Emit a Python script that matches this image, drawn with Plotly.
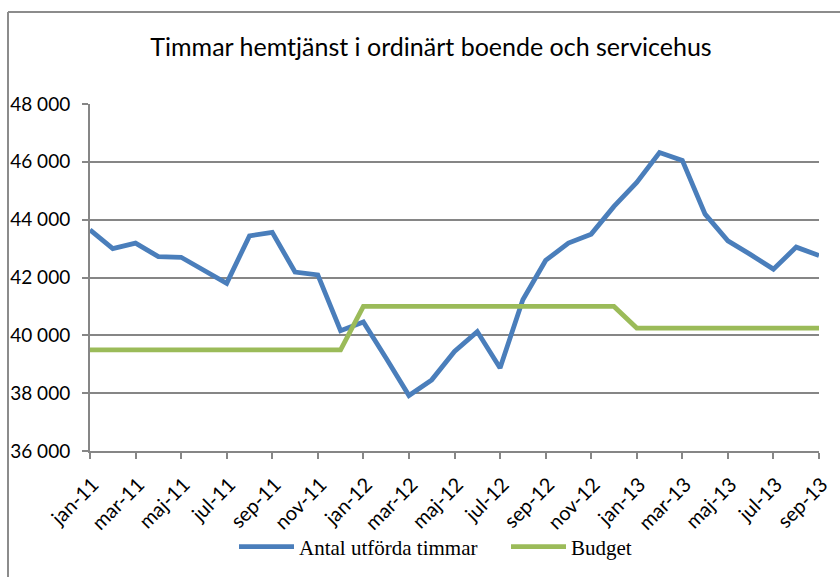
import plotly.graph_objects as go

months = ["jan", "feb", "mar", "apr", "maj", "jun", "jul", "aug", "sep", "okt", "nov", "dec"]
categories = [f"{m}-{y}" for y in ["11", "12", "13"] for m in months][:33]

antal = [43650, 43000, 43190, 42720, 42700, 42240, 41800, 43440, 43560, 42190, 42090,
         40160, 40460, 39210, 37920, 38460, 39440, 40130, 38870, 41230, 42590, 43190,
         43500, 44460, 45290, 46320, 46050, 44190, 43270, 42790, 42290, 43050, 42760]
budget = [39500] * 12 + [41000] * 12 + [40250] * 9

tick_labels = categories[::2]
y_ticks = [36000, 38000, 40000, 42000, 44000, 46000, 48000]
y_tick_text = [f"{v // 1000} 000" for v in y_ticks]

fig = go.Figure()
fig.add_trace(go.Scatter(x=categories, y=antal, mode="lines", name="Antal utförda timmar",
                         line=dict(color="#4A7EBB", width=4.8)))
fig.add_trace(go.Scatter(x=categories, y=budget, mode="lines", name="Budget",
                         line=dict(color="#9BBB59", width=4.8)))

L, R, T, B = 90, 21, 104, 126
W, H = 840, 577
pw, ph = W - L - R, H - T - B

def px(x):
    return (x - L) / pw

def py(y):
    return (H - B - y) / ph

fig.update_layout(
    width=W, height=H,
    margin=dict(l=L, r=R, t=T, b=B, pad=0, autoexpand=False),
    paper_bgcolor="white", plot_bgcolor="white",
    showlegend=True,
    title=dict(text="Timmar hemtjänst i ordinärt boende och servicehus",
               x=431 / W, xanchor="center", y=1 - 47 / H, yanchor="middle",
               font=dict(family="Lato", size=25, color="black")),
    legend=dict(orientation="h", x=px(234), xanchor="left", y=py(547), yanchor="middle",
                font=dict(family="Liberation Serif", size=21, color="black"),
                itemwidth=55, entrywidth=202, tracegroupgap=0, bgcolor="rgba(0,0,0,0)"),
    xaxis=dict(type="category", range=[0, 32], tickmode="array", tickvals=tick_labels,
               ticktext=tick_labels, tickangle=-45, ticks="outside", ticklen=6,
               tickcolor="#868686", tickwidth=2, showgrid=False, showline=True,
               linecolor="#868686", linewidth=2, zeroline=False, automargin=False,
               ticklabelstandoff=6, ticklabelshift=3,
               tickfont=dict(family="Lato", size=20, color="black")),
    yaxis=dict(range=[36000, 48000], tickmode="array", tickvals=y_ticks, ticktext=y_tick_text,
               ticks="outside", ticklen=6, tickcolor="#868686", tickwidth=2,
               showgrid=True, gridcolor="#868686", gridwidth=1.5, showline=True,
               linecolor="#868686", linewidth=2, zeroline=False, automargin=False,
               ticklabelstandoff=8,
               tickfont=dict(family="Lato", size=19, color="black")),
    shapes=[
        dict(type="line", xref="paper", yref="paper", x0=px(8), x1=px(8), y0=py(12), y1=py(600),
             line=dict(color="#8C8C8C", width=2)),
        dict(type="line", xref="paper", yref="paper", x0=px(8), x1=px(860), y0=py(12), y1=py(12),
             line=dict(color="#8C8C8C", width=2)),
    ],
)

fig.write_html("out.html", config={"displayModeBar": False},
               post_script="document.body.style.margin='0';document.body.style.overflow='hidden';")
